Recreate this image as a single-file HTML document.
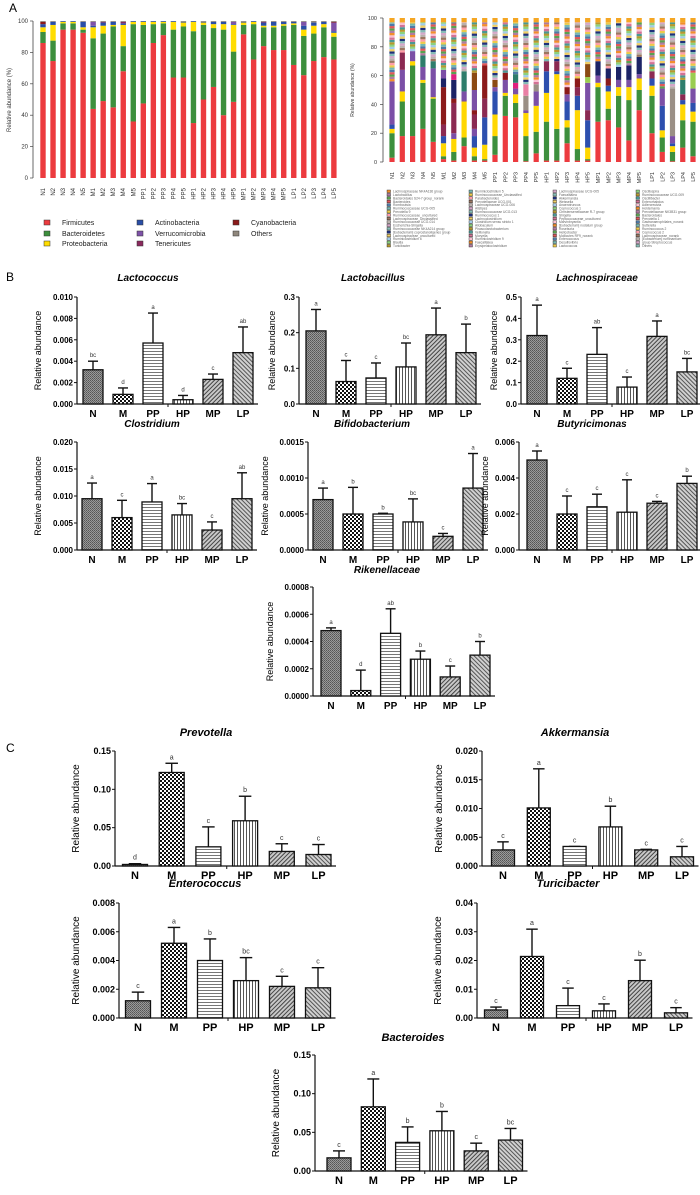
<!DOCTYPE html>
<html><head><meta charset="utf-8"><style>
html,body{margin:0;padding:0;background:#fff}
svg{display:block;font-family:"Liberation Sans",Arial,sans-serif}
</style></head><body>
<svg id="fig" width="700" height="1195" viewBox="0 0 700 1195" xmlns="http://www.w3.org/2000/svg">
<defs>
<pattern id="pN" width="2" height="2" patternUnits="userSpaceOnUse"><rect width="2" height="2" fill="#9a9a9a"/><rect width="1" height="1" fill="#555"/><rect x="1" y="1" width="1" height="1" fill="#666"/></pattern>
<pattern id="pM" width="4" height="4" patternUnits="userSpaceOnUse"><rect width="4" height="4" fill="#fff"/><rect width="2" height="2" fill="#111"/><rect x="2" y="2" width="2" height="2" fill="#111"/></pattern>
<pattern id="pPP" width="4" height="3" patternUnits="userSpaceOnUse"><rect width="4" height="3" fill="#fff"/><rect width="4" height="1" fill="#777"/></pattern>
<pattern id="pHP" width="3" height="4" patternUnits="userSpaceOnUse"><rect width="3" height="4" fill="#fff"/><rect width="1" height="4" fill="#555"/></pattern>
<pattern id="pMP" width="3" height="3" patternUnits="userSpaceOnUse" patternTransform="rotate(45)"><rect width="3" height="3" fill="#c8c8c8"/><rect width="1" height="3" fill="#444"/></pattern>
<pattern id="pLP" width="3" height="3" patternUnits="userSpaceOnUse" patternTransform="rotate(-45)"><rect width="3" height="3" fill="#d0d0d0"/><rect width="1" height="3" fill="#555"/></pattern>
</defs>
<g id="A"></g><g id="AR"></g><g id="B"></g>
<text x="9" y="12" font-size="12">A</text>
<text x="6" y="281" font-size="12">B</text>
<text x="6" y="752" font-size="12">C</text>
</svg>
<script>
const NS="http://www.w3.org/2000/svg";
function mk(parent,tag,attrs,txt){const e=document.createElementNS(NS,tag);for(const k in attrs)e.setAttribute(k,attrs[k]);if(txt!==undefined)e.textContent=txt;parent.appendChild(e);return e;}

// ---------- Panel A left data ----------
const samples=["N1","N2","N3","N4","N5","M1","M2","M3","M4","M5","PP1","PP2","PP3","PP4","PP5","HP1","HP2","HP3","HP4","HP5","MP1","MP2","MP3","MP4","MP5","LP1","LP2","LP3","LP4","LP5"];
const phyla=["Firmicutes","Bacteroidetes","Proteobacteria","Actinobacteria","Verrucomicrobia","Tenericutes","Cyanobacteria","Others"];
const firmicutes=[86,74.5,94.5,94.5,92.5,44,49,45,68,36,47.5,86,91,64,64,35,50,58,40,48.5,91.5,75.5,84,81.5,81.5,72,65.5,74.5,77,75.5];
const bacteroidetes=[7,13,4,4,2,45,43,51.5,16,62,50,12,7.5,30.5,32.5,58.5,47.5,37.5,54.5,32,6,22.5,12,14.5,15.5,25.5,25,17.5,19,14.5];
const proteobacteria=[3,10,1,1,1.5,7,5,1,13.5,1.5,2,1.5,1,5,2.5,6,1.5,2.5,3.5,17,1.5,1.5,1,1,1,1,4,5,2,2.5];
const actinobacteria=[2,2,0.5,0.5,3.5,1,2,2,1,0.5,0.5,0.5,0.5,0.5,0.5,0.5,0.5,1.5,1.5,0.5,0.5,0.5,2,2.5,1.5,1,2.5,2,1.5,1];
const verrucomicrobia=[0,0,0,0,0,2.5,0,0,0,0,0,0,0,0,0,0,0,0,0,1.5,0,0,0,0,0,0,2.5,0,0,5.5];
const tenericutes=[0,0,0,0,0,0,0.5,0,1,0,0,0,0,0,0,0,0,0,0,0,0,0,0.5,0,0,0,0,0,0,0];
const cyanobacteria=[1.5,0,0,0,0,0,0,0,0,0,0,0,0,0,0,0,0,0,0,0,0,0,0,0,0,0,0,0,0,0.5];
const phylaColors=["#ec3b3f","#3d8f3d","#ffdd00","#2a4ea6","#7e52a8","#8a2a5e","#8b1a1a","#8f877c"];
const yTicksA=[0,20,40,60,80,100];
(function(){
 const g=document.getElementById("A");
 const x0=43,dx=10.03,bw=5.4,yTop=21,yBot=178;
 const ys=v=>yBot-(v/100)*(yBot-yTop);
 const ax=mk(g,"line",{x1:33,y1:yTop,x2:33,y2:yBot,stroke:"#444","stroke-width":0.8});
 
 
 yTicksA.forEach(t=>{
  mk(g,"line",{x1:30,y1:ys(t),x2:33,y2:ys(t),stroke:"#444","stroke-width":0.7});
  const tl=mk(g,"text",{x:28,y:ys(t)+2,"font-size":6,"text-anchor":"end",fill:"#333"},t);
  
  
 });
 const yt=mk(g,"text",{transform:"translate(11,100) rotate(-90)","font-size":6,"text-anchor":"middle",fill:"#333"},"Relative abundance (%)");
 
 
 const series=[firmicutes,bacteroidetes,proteobacteria,actinobacteria,verrucomicrobia,tenericutes,cyanobacteria];
 samples.forEach((s,i)=>{
  const cx=x0+i*dx;let cum=0;
  series.forEach((arr,k)=>{
   const v=arr[i];if(v<=0)return;
   const r=mk(g,"rect",{x:cx-bw/2,y:ys(cum+v),width:bw,height:ys(cum)-ys(cum+v),fill:phylaColors[k]});
   
   
   cum+=v;
  });
  if(cum<100){const r=mk(g,"rect",{x:cx-bw/2,y:ys(100),width:bw,height:ys(cum)-ys(100),fill:phylaColors[7]});
   
   }
  const lbl=mk(g,"text",{transform:`translate(${cx+2},188) rotate(-90)`,"font-size":6,"text-anchor":"end",fill:"#333"},s);
  
  
 });
 const lx=[47,140,236],ly=[225,236,246];
 const order=[[0,1,2],[3,4,5],[6,7]];
 order.forEach((col,c)=>col.forEach((k,r)=>{
  const sq=mk(g,"rect",{x:lx[c]-3,y:ly[r]-5,width:6,height:5,fill:phylaColors[k],stroke:"#333","stroke-width":0.5});
  
  
  const t=mk(g,"text",{x:lx[c]+15,y:ly[r],"font-size":7,fill:"#222"},phyla[k]);
  
  
 }));
})();

// ---------- Panel A right data ----------
const genusColors={r:"#ec3b3f",g:"#3d8f3d",y:"#ffd700",b:"#2d4fae",p:"#7b4fa6",m:"#8b2a52",d:"#8b1a1a",n:"#1c2366",t:"#2e7d6b",k:"#e0207f",s:"#9a8f85",w:"#8b4a13",i:"#e97fa5",l:"#9acd50"};
const genusCodes=[
"rgybp","rgypm","rgyp","rgypt","rgypt","rgybmdnp","rgypmdnk","rgypt","rgybpmdpw","rgybmd",
"rgybpw","rgypd","rgypkt","rgypsi","rgyps","rgybm","rgybm","rgybpd","rgybmd","rgybmplw",
"rgypn","rgybdn","rgypn","rgypn","rgypn","rgybm","rgybp","rgybps","rgybmt","rgybpl"];
const genusVals=[
[3,17,3,3,30],[18,24,7,15,12],[18,49,3,7],[23,32,2,9,8],[14,30,1,20,5],[2,2,9,5,8,26,6,6],[1,6,9,4,21,3,13,4],[11,6,25,7,14],[1,3,6,8,5,10,3,14,12],[1,1,10,19,13,23],
[5,13,15,16,3,5],[32,14,2,9,5],[31,10,6,4,4,6],[0.5,17.5,16,2,10,8],[6,15,18,10,5],[1,27,20,15,7],[1,22,38,2,7],[13,11,5,13,5,5],[1,8,27,10,6,6],[1,1,8,19,7,19,4,9],
[28,24,3,5,10],[29,8,12,4,5,7],[24,22,6,5,9],[15,28,9,5,10],[36,14,8,3,12],[20,26,7,5,5],[7,10,5,17,12],[0.5,6.5,4,2,5,33],[10,19,11,3,4,10],[4,24,7,6,10,11]];
const miscPalette=["#f28e2b","#b07aa1","#59a14f","#e15759","#4e79a7","#76b7b2","#edc948","#ff9da7","#9c755f","#bab0ac","#d4a6c8","#86bcb6","#1f2f7a","#f1ce63","#a0cbe8","#8cd17d","#b6992d","#499894","#d37295","#fabfd2"];
const yTicksAR=[0,20,40,60,80,100];
(function(){
 const g=document.getElementById("AR");
 const yTop=18,yBot=162;
 const ys=v=>yBot-(v/100)*(yBot-yTop);
 const xpos=i=>i<25?392+i*10.3:652+(i-25)*10.25;
 const bw=5.2;
 const ax=mk(g,"line",{x1:383,y1:yTop,x2:383,y2:yBot,stroke:"#444","stroke-width":0.8});
 
 
 yTicksAR.forEach(t=>{
  mk(g,"line",{x1:380,y1:ys(t),x2:383,y2:ys(t),stroke:"#444","stroke-width":0.7});
  const tl=mk(g,"text",{x:377,y:ys(t)+2,"font-size":5.5,"text-anchor":"end",fill:"#333"},t);
  
  
 });
 const yt=mk(g,"text",{transform:"translate(354,90) rotate(-90)","font-size":5,"text-anchor":"middle",fill:"#333"},"Relative abundance (%)");
 
 
 samples.forEach((s,i)=>{
  const cx=xpos(i);let cum=0;
  genusVals[i].forEach((v,k)=>{
   const r=mk(g,"rect",{x:cx-bw/2,y:ys(cum+v),width:bw,height:ys(cum)-ys(cum+v),fill:genusColors[genusCodes[i][k]]});
   
   
   cum+=v;
  });
  let j=0;
  while(cum<97){
   const h=Math.min(1.6,97-cum);
   const r=mk(g,"rect",{x:cx-bw/2,y:ys(cum+h),width:bw,height:ys(cum)-ys(cum+h),fill:miscPalette[(i*7+j)%miscPalette.length]});
   
   
   cum+=h;j++;
  }
  const top=mk(g,"rect",{x:cx-bw/2,y:ys(100),width:bw,height:ys(97)-ys(100),fill:"#f5a623"});
  
  
  const lbl=mk(g,"text",{transform:`translate(${cx+2},172) rotate(-90)`,"font-size":5.5,"text-anchor":"end",fill:"#333"},s);
  
  
 });
 const cols=[
 ["Lachnospiraceae NK4A136 group","Lactobacillus","Bacteroidales S24-7 group_norank","Bacteroides","Romboutsia","Ruminococcaceae UCG-005","Prevotella 9","Ruminococcaceae_uncultured","Lachnospiraceae_Unclassified","Ruminococcaceae UCG-014","Escherichia-Shigella","Ruminococcaceae NK4A214 group","[Eubacterium] coprostanoligenes group","Lachnospiraceae_uncultured","Ruminiclostridium 6","Blautia","Turicibacter"],
 ["Ruminiclostridium 5","Ruminococcaceae_Unclassified","Parabacteroides","Prevotellaceae UCG-001","Lachnospiraceae UCG-006","Alistipes","Ruminococcaceae UCG-013","Ruminococcus 1","Lachnoclostridium","Clostridium sensu stricto 1","Allobaculum","Phascolarctobacterium","Veillonella","Moryella","Ruminiclostridium 9","Faecalitalea","Erysipelatoclostridium"],
 ["Lachnospiraceae UCG-005","Faecalitalea","Akkermansia","Weissella","Anaerotruncus","Coprococcus 1","Christensenellaceae R-7 group","Shigella","Peptococcaceae_uncultured","Marvinbryantia","[Eubacterium] nodatum group","Roseburia","Helicobacter","Mollicutes RF9_norank","Enterococcus","Desulfovibrio","Lactococcus"],
 ["Oscillospira","Ruminococcaceae UCG-009","Oscillibacter","Enterorhabdus","Adlercreutzia","Holdemania","Prevotellaceae NK3B31 group","Bacteroidales","Prevotella 1","Gastranaerophilales_norank","Sutterella","Ruminococcus 2","Coprococcus 2","Lachnospiraceae_norank","[Eubacterium] ruminantium","group Streptococcus","Others"]];
 const cx=[387,469,553,636];
 cols.forEach((col,c)=>col.forEach((name,r)=>{
  const y=192+r*3.4;
  const sq=mk(g,"rect",{x:cx[c],y:y-2,width:3.5,height:2.6,fill:miscPalette[(c*5+r)%miscPalette.length],stroke:"#222","stroke-width":0.4});
  
  
  const t=mk(g,"text",{x:cx[c]+6,y:y+0.6,"font-size":3.3,fill:"#666"},name);
  
  
 }));
})();

// ---------- Panels B & C bar charts ----------
const groups=["N","M","PP","HP","MP","LP"];
const lactococcusMean=[0.0032,0.0009,0.0057,0.0004,0.0023,0.0048];
const lactococcusErr=[0.0040,0.0015,0.0085,0.0008,0.0028,0.0072];
const lactococcusSig=["bc","d","a","d","c","ab"];
const lactococcusTicks=["0.000","0.002","0.004","0.006","0.008","0.010"];
const lactobacillusMean=[0.205,0.063,0.073,0.104,0.194,0.144];
const lactobacillusErr=[0.265,0.122,0.115,0.171,0.269,0.224];
const lactobacillusSig=["a","c","c","bc","a","b"];
const lactobacillusTicks=["0.0","0.1","0.2","0.3"];
const lachnoMean=[0.32,0.12,0.232,0.079,0.316,0.15];
const lachnoErr=[0.462,0.167,0.357,0.126,0.388,0.213];
const lachnoSig=["a","c","ab","c","a","bc"];
const lachnoTicks=["0.0","0.1","0.2","0.3","0.4","0.5"];
const clostridiumMean=[0.0095,0.006,0.0089,0.0065,0.0037,0.0095];
const clostridiumErr=[0.0124,0.0092,0.0123,0.0086,0.0052,0.0143];
const clostridiumSig=["a","c","a","bc","c","ab"];
const clostridiumTicks=["0.000","0.005","0.010","0.015","0.020"];
const bifidoMean=[0.0007,0.0005,0.0005,0.00039,0.00019,0.00086];
const bifidoErr=[0.00086,0.00087,0.00051,0.00071,0.00023,0.00134];
const bifidoSig=["a","b","b","bc","c","a"];
const bifidoTicks=["0.0000","0.0005","0.0010","0.0015"];
const butyriMean=[0.005,0.002,0.0024,0.0021,0.0026,0.0037];
const butyriErr=[0.0055,0.003,0.0031,0.0039,0.0027,0.0041];
const butyriSig=["a","c","c","c","c","b"];
const butyriTicks=["0.000","0.002","0.004","0.006"];
const rikenMean=[0.00048,0.00004,0.00046,0.00027,0.00014,0.0003];
const rikenErr=[0.0005,0.00019,0.00064,0.00033,0.00022,0.0004];
const rikenSig=["a","d","ab","b","c","b"];
const rikenTicks=["0.0000","0.0002","0.0004","0.0006","0.0008"];
const prevotellaMean=[0.002,0.122,0.025,0.059,0.019,0.015];
const prevotellaErr=[0.003,0.134,0.051,0.091,0.029,0.028];
const prevotellaSig=["d","a","c","b","c","c"];
const prevotellaTicks=["0.00","0.05","0.10","0.15"];
const akkerMean=[0.0028,0.0101,0.0034,0.0068,0.0028,0.0016];
const akkerErr=[0.0042,0.0169,0.0034,0.0104,0.0029,0.0034];
const akkerSig=["c","a","c","b","c","c"];
const akkerTicks=["0.000","0.005","0.010","0.015","0.020"];
const enteroMean=[0.0012,0.0052,0.004,0.0026,0.0022,0.0021];
const enteroErr=[0.0018,0.0063,0.0055,0.0042,0.0029,0.0035];
const enteroSig=["c","a","b","bc","c","c"];
const enteroTicks=["0.000","0.002","0.004","0.006","0.008"];
const turiciMean=[0.0028,0.0214,0.0043,0.0025,0.013,0.0018];
const turiciErr=[0.0038,0.0309,0.0104,0.0049,0.0201,0.0036];
const turiciSig=["c","a","c","c","b","c"];
const turiciTicks=["0.00","0.01","0.02","0.03","0.04"];
const bacteroidesMean=[0.017,0.083,0.037,0.052,0.026,0.04];
const bacteroidesErr=[0.026,0.119,0.057,0.077,0.036,0.055];
const bacteroidesSig=["c","a","b","b","c","bc"];
const bacteroidesTicks=["0.00","0.05","0.10","0.15"];

const fills=["url(#pN)","url(#pM)","url(#pPP)","url(#pHP)","url(#pMP)","url(#pLP)"];

function panel(o){
 const g=mk(document.getElementById("B"),"g",{});
 
 
 const tickVals=o.ticks.map(Number);
 const ymax=tickVals[tickVals.length-1];
 const ys=v=>o.bot-(v/ymax)*(o.bot-o.top);
 const xs=i=>o.x0+i*o.dx;
 const xEnd=xs(5)+o.bw/2+5;
 const title=mk(g,"text",{x:o.tx,y:o.ty,"font-size":o.fs+2,"font-weight":"bold","font-style":"italic","text-anchor":"middle"},o.title);
 
 
 const yl=mk(g,"text",{transform:`translate(${o.ax-o.ylOff},${(o.top+o.bot)/2}) rotate(-90)`,"font-size":o.fs+1,"text-anchor":"middle"},"Relative abundance");
 
 
 const ya=mk(g,"line",{x1:o.ax,y1:o.top,x2:o.ax,y2:o.bot,stroke:"#111","stroke-width":1.2});
 
 
 const xa=mk(g,"line",{x1:o.ax,y1:o.bot,x2:xEnd,y2:o.bot,stroke:"#111","stroke-width":1.2});
 
 
 mk(g,"line",{x1:(xs(2)+xs(3))/2,y1:o.bot,x2:(xs(2)+xs(3))/2,y2:o.bot+3,stroke:"#111","stroke-width":1});
 o.ticks.forEach((t,k)=>{
  const y=ys(tickVals[k]);
  mk(g,"line",{x1:o.ax-3,y1:y,x2:o.ax,y2:y,stroke:"#111","stroke-width":1});
  const tl=mk(g,"text",{x:o.ax-4,y:y+3,"font-size":o.fs,"font-weight":"bold","text-anchor":"end"},t);
  
  
 });
 groups.forEach((gr,i)=>{
  const cx=xs(i),m=o.mean[i],e=o.err[i];
  const et=mk(g,"line",{x1:cx,y1:ys(e),x2:cx,y2:ys(m),stroke:"#111","stroke-width":1.4});
  
  
  mk(g,"line",{x1:cx-o.bw/4,y1:ys(e),x2:cx+o.bw/4,y2:ys(e),stroke:"#111","stroke-width":1.4});
  const b=mk(g,"rect",{x:cx-o.bw/2,y:ys(m),width:o.bw,height:Math.max(0.5,o.bot-ys(m)),fill:fills[i],stroke:"#111","stroke-width":1.3});
  
  
  const sl=mk(g,"text",{x:cx,y:ys(e)-4,"font-size":o.fs-2,"text-anchor":"middle",fill:"#333"},o.sig[i]);
  
  
  const xl=mk(g,"text",{x:cx,y:o.bot+13,"font-size":o.fs+2,"font-weight":"bold","text-anchor":"middle"},gr);
  
  
 });
}
const B=8,C=9;
panel({name:"lactococcus",title:"Lactococcus",mean:lactococcusMean,err:lactococcusErr,sig:lactococcusSig,ticks:lactococcusTicks,ax:77,top:297,bot:404,x0:93,dx:30,bw:20,tx:148,ty:281,fs:B,ylOff:36});
panel({name:"lactobacillus",title:"Lactobacillus",mean:lactobacillusMean,err:lactobacillusErr,sig:lactobacillusSig,ticks:lactobacillusTicks,ax:299,top:297,bot:404,x0:316,dx:30,bw:20,tx:373,ty:281,fs:B,ylOff:24});
panel({name:"lachnospiraceae",title:"Lachnospiraceae",mean:lachnoMean,err:lachnoErr,sig:lachnoSig,ticks:lachnoTicks,ax:521,top:297,bot:404,x0:537,dx:30,bw:20,tx:597,ty:281,fs:B,ylOff:24});
panel({name:"clostridium",title:"Clostridium",mean:clostridiumMean,err:clostridiumErr,sig:clostridiumSig,ticks:clostridiumTicks,ax:77,top:442,bot:550,x0:92,dx:30,bw:20,tx:152,ty:427,fs:B,ylOff:36});
panel({name:"bifidobacterium",title:"Bifidobacterium",mean:bifidoMean,err:bifidoErr,sig:bifidoSig,ticks:bifidoTicks,ax:308,top:442,bot:550,x0:323,dx:30,bw:20,tx:372,ty:427,fs:B,ylOff:40});
panel({name:"butyricimonas",title:"Butyricimonas",mean:butyriMean,err:butyriErr,sig:butyriSig,ticks:butyriTicks,ax:519,top:442,bot:550,x0:537,dx:30,bw:20,tx:592,ty:427,fs:B,ylOff:31});
panel({name:"rikenellaceae",title:"Rikenellaceae",mean:rikenMean,err:rikenErr,sig:rikenSig,ticks:rikenTicks,ax:313,top:587,bot:696,x0:331,dx:29.8,bw:20,tx:387,ty:573,fs:B,ylOff:40});
panel({name:"prevotella",title:"Prevotella",mean:prevotellaMean,err:prevotellaErr,sig:prevotellaSig,ticks:prevotellaTicks,ax:115,top:751,bot:866,x0:135,dx:36.7,bw:25,tx:206,ty:736,fs:C,ylOff:36});
panel({name:"akkermansia",title:"Akkermansia",mean:akkerMean,err:akkerErr,sig:akkerSig,ticks:akkerTicks,ax:482,top:751,bot:866,x0:503,dx:35.8,bw:23,tx:575,ty:736,fs:C,ylOff:40});
panel({name:"enterococcus",title:"Enterococcus",mean:enteroMean,err:enteroErr,sig:enteroSig,ticks:enteroTicks,ax:119,top:903,bot:1018,x0:138,dx:36,bw:25,tx:205,ty:887,fs:C,ylOff:40});
panel({name:"turicibacter",title:"Turicibacter",mean:turiciMean,err:turiciErr,sig:turiciSig,ticks:turiciTicks,ax:477,top:903,bot:1018,x0:496,dx:36,bw:23,tx:568,ty:887,fs:C,ylOff:36});
panel({name:"bacteroides",title:"Bacteroides",mean:bacteroidesMean,err:bacteroidesErr,sig:bacteroidesSig,ticks:bacteroidesTicks,ax:315,top:1055,bot:1171,x0:339,dx:34.3,bw:24,tx:413,ty:1041,fs:C,ylOff:36});
</script>
</body></html>
